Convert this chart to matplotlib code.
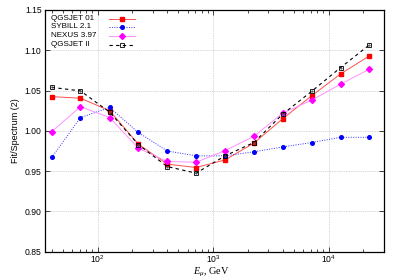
import numpy as np
from matplotlib import pyplot as plt

plt.rcParams['font.family'] = ['Liberation Sans', 'DejaVu Sans']
plt.rcParams['mathtext.fontset'] = 'custom'
plt.rcParams['mathtext.rm'] = 'Liberation Sans'
plt.rcParams['mathtext.it'] = 'Liberation Serif:italic'

energy = [40, 71, 127, 225, 400, 712, 1270, 2250, 4000, 7120, 12700, 22500]
qgsjet01 = [1.0425, 1.0405, 1.025, 0.9835, 0.9587, 0.9545, 0.964, 0.9847,
            1.015, 1.0434, 1.0707, 1.093]
sybill21 = [0.967, 1.0165, 1.029, 0.998, 0.975, 0.969, 0.969, 0.974,
            0.980, 0.9855, 0.992, 0.992]
nexus397 = [0.999, 1.030, 1.0165, 0.9785, 0.962, 0.961, 0.9756, 0.993,
            1.022, 1.038, 1.058, 1.0765]
qgsjet2 = [1.054, 1.0496, 1.0232, 0.983, 0.9557, 0.9475, 0.969, 0.9855,
           1.0207, 1.049, 1.0785, 1.1066]
labels = ['QGSJET 01', 'SYBILL 2.1', 'NEXUS 3.97', 'QGSJET II']

fig = plt.figure(figsize=(3.99, 2.79), dpi=100)
ax = fig.add_axes([0.1128, 0.0978, 0.8489, 0.8664])

h1, = ax.plot(energy, qgsjet01, color='#ff5050', lw=0.7, marker='s', ms=3,
              mfc='red', mec='red')
h2, = ax.plot(energy, sybill21, color='#3030ff', lw=0.7, ls=(0, (1, 1.5)), marker='o', ms=2.6,
              mfc='blue', mec='blue')
h3, = ax.plot(energy, nexus397, color='#ff90ff', lw=0.7, marker='D', ms=3,
              mfc='magenta', mec='magenta')
h4, = ax.plot(energy, qgsjet2, color='black', lw=0.8, ls=(0, (3, 3)), marker='s', ms=3.2,
              mfc='none', mec='black', mew=0.6)
ax.plot(energy, qgsjet2, ls='none', marker='.', ms=1.2, color='0.3')

ax.set_xscale('log')
ax.set_xlim(35, 30000)
ax.set_ylim(0.85, 1.15)
ax.set_yticks(np.arange(0.85, 1.151, 0.05))
ax.yaxis.set_major_formatter(plt.FormatStrFormatter('%.2f'))

ax.grid(True, which='major', color='#b0b0b0', ls=(0, (1, 1.5)), lw=0.5)
ax.tick_params(which='both', direction='in', top=True, right=True, labelsize=6.2, width=0.5)
ax.tick_params(which='major', length=3.5, pad=2.5)
ax.tick_params(axis='x', which='major', pad=1.5)
ax.tick_params(which='minor', length=2)
for s in ax.spines.values():
    s.set_linewidth(0.9)

ax.set_xlabel(r'$E_\mu$, GeV', family='Liberation Serif', fontsize=7.4)
ax.xaxis.set_label_coords(0.49, -0.058)
ax.set_ylabel('Fit/Spectrum (2)', fontsize=6.5, labelpad=3)

# gnuplot-style key: labels left, samples to the right
ax.legend([h1, h2, h3, h4], [''] * 4, loc='upper left', bbox_to_anchor=(0.17, 1.0),
          frameon=False, fontsize=5.2, handlelength=3.6, labelspacing=0.22,
          handletextpad=0, borderaxespad=0.45)
for i, lab in enumerate(labels):
    ax.text(0.017, 0.966 - i * 0.036, lab, transform=ax.transAxes, fontsize=5.8,
            va='center', ha='left')

plt.savefig('out.png', dpi=100)
